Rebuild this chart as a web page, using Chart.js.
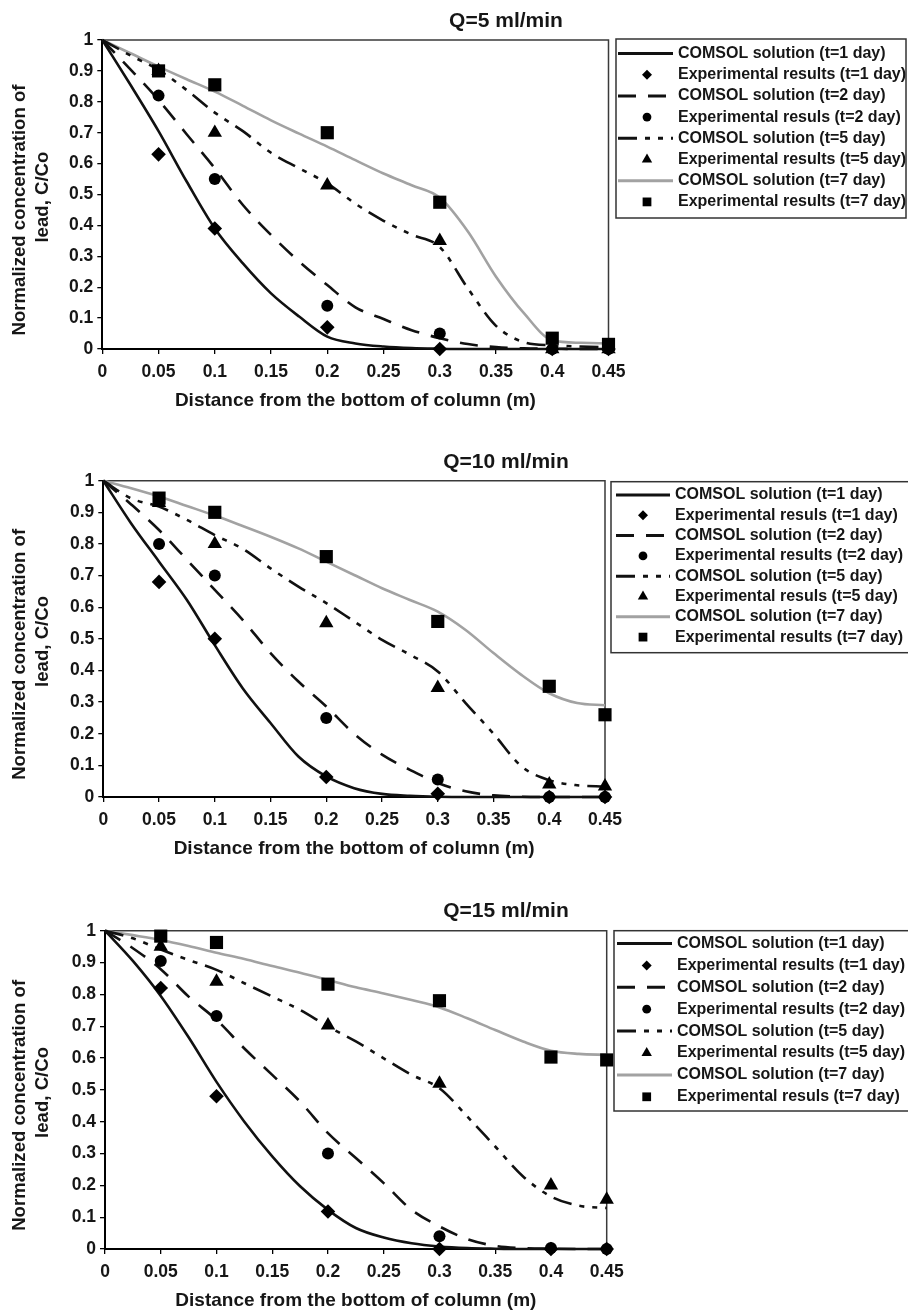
<!DOCTYPE html>
<html>
<head>
<meta charset="utf-8">
<script src="https://cdn.jsdelivr.net/npm/chart.js@4.4.1/dist/chart.umd.min.js"></script>
<style>
  html, body { margin: 0; padding: 0; background: #fff; }
  #page { position: relative; width: 908px; height: 1316px; overflow: hidden; background: #fff; }
  #page canvas { position: absolute; left: 0; }
</style>
</head>
<body>
<div id="page">
  <canvas id="q5" width="908" height="440" style="top:0"></canvas>
  <canvas id="q10" width="908" height="440" style="top:440px"></canvas>
  <canvas id="q15" width="908" height="436" style="top:880px"></canvas>
</div>
<script>
// axis ticks
const xTicks = [0, 0.05, 0.1, 0.15, 0.2, 0.25, 0.3, 0.35, 0.4, 0.45];
const yTicks = [0, 0.1, 0.2, 0.3, 0.4, 0.5, 0.6, 0.7, 0.8, 0.9, 1];

// distances (m) where the COMSOL curves were read, and where samples were taken
const modelX = [0, 0.025, 0.05, 0.075, 0.1, 0.125, 0.15, 0.175, 0.2, 0.225, 0.25, 0.275, 0.3, 0.325, 0.35, 0.375, 0.4, 0.425, 0.45];
const sampleX = [0.05, 0.1, 0.2, 0.3, 0.4, 0.45];

// Q = 5 ml/min
const q5Model1 = [1, 0.855, 0.705, 0.542, 0.39, 0.277, 0.18, 0.105, 0.04, 0.018, 0.008, 0.003, 0.001, 0, 0, 0, 0, 0, 0];
const q5Model2 = [1, 0.905, 0.806, 0.695, 0.585, 0.466, 0.369, 0.283, 0.207, 0.135, 0.097, 0.061, 0.035, 0.016, 0.006, 0.002, 0.001, 0, 0];
const q5Model5 = [1, 0.95, 0.903, 0.838, 0.765, 0.705, 0.635, 0.585, 0.536, 0.47, 0.415, 0.37, 0.33, 0.196, 0.075, 0.022, 0.012, 0.008, 0.005];
const q5Model7 = [1, 0.957, 0.914, 0.873, 0.833, 0.787, 0.74, 0.697, 0.655, 0.611, 0.568, 0.53, 0.49, 0.38, 0.234, 0.115, 0.028, 0.02, 0.018];
const q5Exp1 = [0.63, 0.39, 0.07, 0, 0, 0];
const q5Exp2 = [0.82, 0.55, 0.14, 0.05, 0, 0];
const q5Exp5 = [0.9, 0.7, 0.53, 0.35, 0, 0];
const q5Exp7 = [0.9, 0.855, 0.7, 0.475, 0.035, 0.015];

// Q = 10 ml/min
const q10Model1 = [1, 0.865, 0.744, 0.623, 0.48, 0.344, 0.234, 0.128, 0.065, 0.028, 0.01, 0.004, 0.001, 0, 0, 0, 0, 0, 0];
const q10Model2 = [1, 0.925, 0.844, 0.75, 0.655, 0.56, 0.455, 0.365, 0.286, 0.2, 0.134, 0.086, 0.044, 0.018, 0.005, 0.001, 0, 0, 0];
const q10Model5 = [1, 0.944, 0.918, 0.876, 0.828, 0.785, 0.723, 0.665, 0.613, 0.555, 0.497, 0.45, 0.397, 0.297, 0.2, 0.097, 0.053, 0.037, 0.033];
const q10Model7 = [1, 0.976, 0.95, 0.92, 0.89, 0.857, 0.823, 0.786, 0.744, 0.702, 0.66, 0.623, 0.586, 0.528, 0.455, 0.386, 0.328, 0.297, 0.29];
const q10Exp1 = [0.68, 0.5, 0.063, 0.01, 0, 0];
const q10Exp2 = [0.8, 0.7, 0.25, 0.055, 0, 0];
const q10Exp5 = [0.93, 0.8, 0.55, 0.345, 0.04, 0.034];
const q10Exp7 = [0.945, 0.9, 0.76, 0.555, 0.35, 0.26];

// Q = 15 ml/min
const q15Model1 = [1, 0.905, 0.795, 0.665, 0.525, 0.4, 0.291, 0.197, 0.123, 0.066, 0.036, 0.018, 0.008, 0.003, 0.001, 0, 0, 0, 0];
const q15Model2 = [1, 0.945, 0.879, 0.793, 0.72, 0.63, 0.547, 0.463, 0.364, 0.286, 0.207, 0.123, 0.071, 0.031, 0.01, 0.003, 0.001, 0, 0];
const q15Model5 = [1, 0.976, 0.941, 0.908, 0.877, 0.835, 0.793, 0.751, 0.699, 0.652, 0.599, 0.547, 0.505, 0.416, 0.322, 0.228, 0.165, 0.136, 0.129];
const q15Model7 = [1, 0.986, 0.971, 0.952, 0.931, 0.911, 0.889, 0.868, 0.845, 0.822, 0.803, 0.782, 0.759, 0.725, 0.688, 0.652, 0.623, 0.613, 0.61];
const q15Exp1 = [0.82, 0.48, 0.118, 0, 0, 0];
const q15Exp2 = [0.905, 0.732, 0.3, 0.04, 0.003, 0];
const q15Exp5 = [0.95, 0.84, 0.703, 0.52, 0.2, 0.155];
const q15Exp7 = [0.983, 0.963, 0.832, 0.78, 0.603, 0.594];

// legend labels (spelled as in the figure)
const q5Labels = ['COMSOL solution (t=1 day)', 'Experimental results (t=1 day)', 'COMSOL solution (t=2 day)', 'Experimental resuls (t=2 day)',
  'COMSOL solution (t=5 day)', 'Experimental results (t=5 day)', 'COMSOL solution (t=7 day)', 'Experimental results (t=7 day)'];
const q10Labels = ['COMSOL solution (t=1 day)', 'Experimental resuls (t=1 day)', 'COMSOL solution (t=2 day)', 'Experimental results (t=2 day)',
  'COMSOL solution (t=5 day)', 'Experimental resuls (t=5 day)', 'COMSOL solution (t=7 day)', 'Experimental results (t=7 day)'];
const q15Labels = ['COMSOL solution (t=1 day)', 'Experimental results (t=1 day)', 'COMSOL solution (t=2 day)', 'Experimental results (t=2 day)',
  'COMSOL solution (t=5 day)', 'Experimental results (t=5 day)', 'COMSOL solution (t=7 day)', 'Experimental resuls (t=7 day)'];

const FONT = '"Liberation Sans", Arial, Helvetica, sans-serif';
const INK = '#161616';

const lineStyles = [
  { color: '#111', width: 2.6, dash: [] },
  { color: '#111', width: 2.6, dash: [18, 12] },
  { color: '#111', width: 2.6, dash: [19, 8, 5, 8, 5, 8] },
  { color: '#a2a2a2', width: 2.6, dash: [] }
];
const markers = [
  { style: 'rectRot', r: 7.3, lr: 5 },
  { style: 'circle', r: 6, lr: 4.4 },
  { style: 'triangle', r: 8.3, lr: 6 },
  { style: 'rect', r: 9.3, lr: 6.2 }
];

function buildDatasets(models, exps, labels) {
  const out = [];
  models.forEach((vals, k) => {
    const st = lineStyles[k];
    out.push({
      label: labels[2 * k],
      data: modelX.map((x, i) => ({ x: x, y: vals[i] })),
      showLine: true,
      borderColor: st.color,
      borderWidth: st.width,
      borderDash: st.dash,
      cubicInterpolationMode: 'monotone',
      pointRadius: 0,
      pointHoverRadius: 0,
      order: 1,
      clip: false
    });
    const mk = markers[k];
    out.push({
      label: labels[2 * k + 1],
      data: sampleX.map((x, i) => ({ x: x, y: exps[k][i] })),
      showLine: false,
      pointStyle: mk.style,
      pointRadius: mk.r,
      pointHoverRadius: mk.r,
      pointBackgroundColor: '#000',
      pointBorderColor: '#000',
      pointBorderWidth: 0,
      legendRadius: mk.lr,
      order: 0,
      clip: false
    });
  });
  return out;
}

function drawMark(ctx, style, x, y, r) {
  ctx.beginPath();
  if (style === 'circle') {
    ctx.arc(x, y, r, 0, Math.PI * 2);
  } else if (style === 'rectRot') {
    ctx.moveTo(x - r, y); ctx.lineTo(x, y - r); ctx.lineTo(x + r, y); ctx.lineTo(x, y + r);
  } else if (style === 'triangle') {
    const h = r * 1.5, w = r * 0.866;
    ctx.moveTo(x, y - r); ctx.lineTo(x + w, y - r + h); ctx.lineTo(x - w, y - r + h);
  } else {
    const s = r * 0.7071;
    ctx.rect(x - s, y - s, 2 * s, 2 * s);
  }
  ctx.closePath();
  ctx.fill();
}

// top and right edge of the plot area
const frame = {
  id: 'frame',
  beforeDatasetsDraw(chart) {
    const { ctx, chartArea: a } = chart;
    ctx.save();
    ctx.strokeStyle = '#3a3a3a';
    ctx.lineWidth = 1.5;
    ctx.beginPath();
    ctx.moveTo(a.left, a.top);
    ctx.lineTo(a.right, a.top);
    ctx.lineTo(a.right, a.bottom);
    ctx.stroke();
    ctx.restore();
  }
};

const panelTitle = {
  id: 'panelTitle',
  afterDraw(chart, args, o) {
    const ctx = chart.ctx;
    ctx.save();
    ctx.font = 'bold 21px ' + FONT;
    ctx.fillStyle = INK;
    ctx.textAlign = 'center';
    ctx.textBaseline = 'alphabetic';
    ctx.fillText(o.text, o.x, o.y);
    ctx.restore();
  }
};

// boxed legend to the right of the plot
const boxLegend = {
  id: 'boxLegend',
  afterDraw(chart, args, o) {
    const ctx = chart.ctx;
    ctx.save();
    ctx.fillStyle = '#fff';
    ctx.fillRect(o.x, o.y, o.w, o.h);
    ctx.strokeStyle = '#333';
    ctx.lineWidth = 1.5;
    ctx.strokeRect(o.x, o.y, o.w, o.h);
    ctx.font = 'bold 16px ' + FONT;
    ctx.textBaseline = 'middle';
    ctx.textAlign = 'left';
    chart.data.datasets.forEach((ds, i) => {
      const y = o.row + i * o.step;
      if (ds.showLine) {
        ctx.strokeStyle = ds.borderColor;
        ctx.lineWidth = ds.borderWidth + 0.4;
        ctx.setLineDash(ds.borderDash);
        ctx.beginPath();
        ctx.moveTo(o.lineX0, y);
        ctx.lineTo(o.lineX1, y);
        ctx.stroke();
        ctx.setLineDash([]);
      } else {
        ctx.fillStyle = '#000';
        drawMark(ctx, ds.pointStyle, o.markX, y, ds.legendRadius);
      }
      ctx.fillStyle = INK;
      ctx.fillText(ds.label, o.textX, y);
    });
    ctx.restore();
  }
};

function makePanel(id, title, models, exps, labels, geo) {
  const H = document.getElementById(id).height;
  const xAxisH = 63.4;
  new Chart(document.getElementById(id), {
    type: 'scatter',
    data: { datasets: buildDatasets(models, exps, labels) },
    options: {
      responsive: false,
      animation: false,
      events: [],
      devicePixelRatio: 1,
      layout: {
        padding: { left: 0, top: geo.top, right: 908 - geo.right, bottom: H - geo.bottom - xAxisH }
      },
      scales: {
        x: {
          type: 'linear',
          min: 0,
          max: 0.45,
          afterBuildTicks: s => { s.ticks = xTicks.map(v => ({ value: v })); },
          afterFit: s => { s.height = xAxisH; },
          grid: { drawOnChartArea: false, drawTicks: true, tickLength: 5, color: '#000', lineWidth: 1.3 },
          border: { display: true, color: '#000', width: 2 },
          ticks: {
            autoSkip: false, maxRotation: 0, padding: 7.5, color: INK,
            font: { family: FONT, size: 17.5, weight: 'bold' },
            callback: v => String(v)
          },
          title: {
            display: true, text: 'Distance from the bottom of column (m)', color: INK, padding: 0,
            font: { family: FONT, size: 19, weight: 'bold' }
          }
        },
        y: {
          type: 'linear',
          min: 0,
          max: 1,
          afterBuildTicks: s => { s.ticks = yTicks.map(v => ({ value: v })); },
          afterFit: s => { s.width = geo.left; },
          grid: { drawOnChartArea: false, drawTicks: true, tickLength: 5, color: '#000', lineWidth: 1.3 },
          border: { display: true, color: '#000', width: 2 },
          ticks: {
            padding: 4, color: INK,
            font: { family: FONT, size: 17.5, weight: 'bold' },
            callback: v => String(v)
          },
          title: {
            // trailing spaces keep the lines where the original places them
            display: true, text: ['Normalized concentration of      ', 'lead, C/Co '], color: INK,
            padding: { top: 8.7, bottom: 0 },
            font: { family: FONT, size: 18.6, weight: 'bold', lineHeight: 1.21 }
          }
        }
      },
      plugins: {
        legend: { display: false },
        tooltip: { enabled: false },
        panelTitle: { text: title, x: 506, y: geo.titleY },
        boxLegend: geo.legend
      }
    },
    plugins: [frame, panelTitle, boxLegend]
  });
}

makePanel('q5', 'Q=5 ml/min', [q5Model1, q5Model2, q5Model5, q5Model7], [q5Exp1, q5Exp2, q5Exp5, q5Exp7], q5Labels, {
  left: 102.3, right: 608.5, top: 40, bottom: 349, titleY: 26.7,
  legend: { x: 616, y: 39, w: 290, h: 179, row: 53.5, step: 21.2, lineX0: 618, lineX1: 673, markX: 647, textX: 678 }
});
makePanel('q10', 'Q=10 ml/min', [q10Model1, q10Model2, q10Model5, q10Model7], [q10Exp1, q10Exp2, q10Exp5, q10Exp7], q10Labels, {
  left: 103.3, right: 605, top: 40.7, bottom: 357, titleY: 28,
  legend: { x: 611, y: 41.7, w: 320, h: 171, row: 55, step: 20.3, lineX0: 616, lineX1: 670, markX: 643, textX: 675 }
});
makePanel('q15', 'Q=15 ml/min', [q15Model1, q15Model2, q15Model5, q15Model7], [q15Exp1, q15Exp2, q15Exp5, q15Exp7], q15Labels, {
  left: 105, right: 606.7, top: 50.7, bottom: 369, titleY: 36.7,
  legend: { x: 614, y: 50.7, w: 320, h: 180.3, row: 63.5, step: 21.9, lineX0: 617, lineX1: 672, markX: 646.7, textX: 677 }
});
</script>
</body>
</html>
